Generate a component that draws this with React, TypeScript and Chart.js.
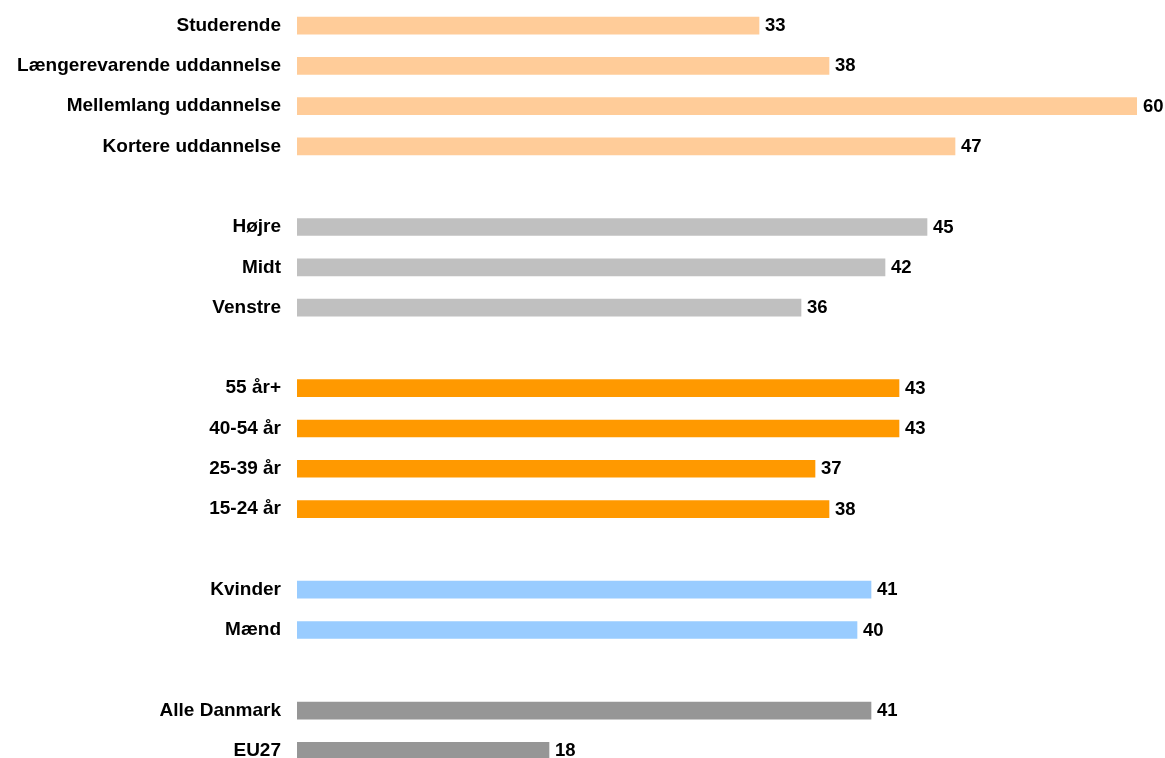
import React, { useEffect, useRef } from "react";
import { Chart, registerables } from "chart.js";

Chart.register(...registerables);

const categories = [
  "Studerende",
  "Længerevarende uddannelse",
  "Mellemlang uddannelse",
  "Kortere uddannelse",
  "",
  "Højre",
  "Midt",
  "Venstre",
  "",
  "55 år+",
  "40-54 år",
  "25-39 år",
  "15-24 år",
  "",
  "Kvinder",
  "Mænd",
  "",
  "Alle Danmark",
  "EU27",
];

const values: (number | null)[] = [
  33, 38, 60, 47, null, 45, 42, 36, null, 43, 43, 37, 38, null, 41, 40, null, 41, 18,
];

const PEACH = "#FFCC99";
const LIGHTGRAY = "#C0C0C0";
const ORANGE = "#FF9900";
const LIGHTBLUE = "#99CCFF";
const DARKGRAY = "#969696";

const barColors = [
  PEACH, PEACH, PEACH, PEACH, "transparent",
  LIGHTGRAY, LIGHTGRAY, LIGHTGRAY, "transparent",
  ORANGE, ORANGE, ORANGE, ORANGE, "transparent",
  LIGHTBLUE, LIGHTBLUE, "transparent",
  DARKGRAY, DARKGRAY,
];

const FONT = "'Liberation Sans', Arial, sans-serif";

const valueLabelPlugin = {
  id: "valueLabels",
  afterDatasetsDraw(chart: any) {
    const ctx = chart.ctx;
    const meta = chart.getDatasetMeta(0);
    ctx.save();
    ctx.font = `bold 18.5px ${FONT}`;
    ctx.fillStyle = "#000000";
    ctx.textAlign = "left";
    ctx.textBaseline = "middle";
    meta.data.forEach((el: any, i: number) => {
      const v = values[i];
      if (v === null || v === undefined) return;
      ctx.fillText(String(v), el.x + 6, el.y + 0.5);
    });
    ctx.restore();
  },
};

export default function App() {
  const ref = useRef<HTMLCanvasElement | null>(null);

  useEffect(() => {
    if (!ref.current) return;
    const chart = new Chart(ref.current, {
      type: "bar",
      data: {
        labels: categories,
        datasets: [
          {
            data: values,
            backgroundColor: barColors,
            borderWidth: 0,
            barThickness: 17,
          },
        ],
      },
      options: {
        indexAxis: "y",
        animation: false,
        responsive: false,
        maintainAspectRatio: false,
        layout: { padding: { top: 5.4, bottom: 5, left: 0, right: 28 } },
        plugins: {
          legend: { display: false },
          tooltip: { enabled: false },
          title: { display: false },
        },
        scales: {
          x: {
            display: false,
            min: 0,
            max: 60,
          },
          y: {
            grid: { display: false, drawTicks: false, tickLength: 0 },
            border: { display: false },
            ticks: {
              color: "#000000",
              padding: 16,
              autoSkip: false,
              font: { family: FONT, size: 19, weight: "bold" },
            },
            afterFit: (scale: any) => {
              scale.width = 297;
              scale.paddingTop = 0;
              scale.paddingBottom = 0;
            },
          },
        },
      },
      plugins: [valueLabelPlugin],
    });
    return () => chart.destroy();
  }, []);

  return (
    <div style={{ position: "absolute", left: 0, top: 0, width: 1165, height: 776, background: "#fff" }}>
      <canvas ref={ref} width={1165} height={776} style={{ width: 1165, height: 776, display: "block" }} />
    </div>
  );
}
